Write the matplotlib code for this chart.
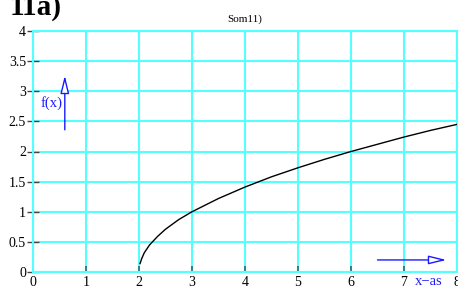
import matplotlib
matplotlib.use("Agg")
import matplotlib.pyplot as plt

# curve values
x_vals = [2.02, 2.05, 2.1, 2.2, 2.35, 2.5, 2.75, 3.0, 3.5, 4.0, 4.5, 5.0,
          5.5, 6.0, 6.5, 7.0, 7.5, 8.0]
y_vals = [0.14, 0.22, 0.32, 0.45, 0.59, 0.71, 0.87, 1.0, 1.22, 1.41, 1.58,
          1.73, 1.87, 2.0, 2.12, 2.24, 2.35, 2.45]
x_ticks = [0, 1, 2, 3, 4, 5, 6, 7, 8]
y_ticks = [0, 0.5, 1, 1.5, 2, 2.5, 3, 3.5, 4]
y_labels = ["0", "0.5", "1", "1.5", "2", "2.5", "3", "3.5", "4"]

serif = ["Liberation Serif", "DejaVu Serif"]
cyan = "#55ffff"
blue = "#1a1aff"

fig = plt.figure(figsize=(4.58, 2.91), dpi=100)
ax = fig.add_axes([33 / 458, 19 / 291, 424 / 458, 241 / 291])

ax.plot(x_vals, y_vals, color="black", lw=1.0, zorder=3)

ax.set_xlim(0, 8)
ax.set_ylim(0, 4)
ax.set_xticks(x_ticks)
ax.set_yticks(y_ticks)
ax.set_xticklabels([str(t) for t in x_ticks], family=serif, fontsize=10)
ax.set_yticklabels(y_labels, family=serif, fontsize=10)
ax.tick_params(axis="x", direction="in", length=4, width=1.2, color="#336666", pad=3)
ax.tick_params(axis="y", direction="inout", length=9, width=1.0, color="#444444", pad=0.5)
ax.grid(True, color=cyan, lw=1.5)
for s in ax.spines.values():
    s.set_color(cyan)
    s.set_linewidth(1.5)
ax.set_axisbelow(True)

ax.set_title("Som11)", family=serif, fontsize=8, pad=7)

# axis arrows
head = "-|>,head_length=0.9,head_width=0.22"
ax.annotate("", xy=(0.6, 3.26), xytext=(0.6, 2.36),
            arrowprops=dict(arrowstyle=head, color=blue, lw=1.0,
                            mutation_scale=12, fc="white", shrinkA=0, shrinkB=0))
ax.text(0.56, 2.8, "f(x)", color=blue, family=serif, fontsize=10.5,
        ha="right", va="center")
ax.annotate("", xy=(7.8, 0.2), xytext=(6.5, 0.2),
            arrowprops=dict(arrowstyle=head, color=blue, lw=1.0,
                            mutation_scale=12, fc="white", shrinkA=0, shrinkB=0))
ax.text(7.47, -0.15, "x\u2212as", color=blue, family=serif, fontsize=10.5,
        ha="center", va="center", clip_on=False)

fig.text(10 / 458, 1 - 15 / 291, "11a)", family=serif, fontsize=21,
         fontweight="bold", ha="left", va="baseline")

fig.savefig("out.png", dpi=100)
